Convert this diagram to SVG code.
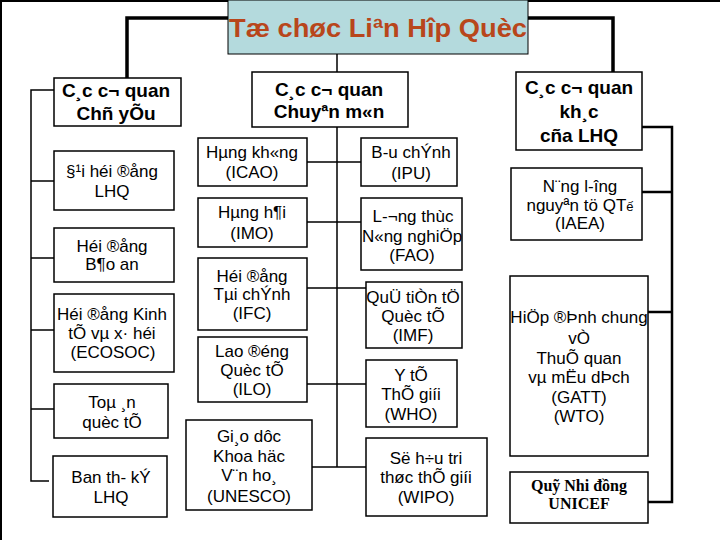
<svg xmlns="http://www.w3.org/2000/svg" width="720" height="540" viewBox="0 0 720 540">
<style>
.box{fill:#fff;stroke:#000;stroke-width:1.5}
.t{font-family:"Liberation Sans",Arial,sans-serif;font-size:17px;fill:#000;text-anchor:middle}
.h{font-family:"Liberation Sans",Arial,sans-serif;font-size:19px;font-weight:bold;fill:#000;text-anchor:middle}
.s{font-family:"Liberation Serif","Times New Roman",serif;font-size:16px;font-weight:bold;fill:#000;text-anchor:middle}
.ln{fill:none;stroke:#000;stroke-width:1.5}
.thick{fill:none;stroke:#000;stroke-width:3.5}
.mid{fill:none;stroke:#000;stroke-width:2.5}
</style>
<rect width="720" height="540" fill="#fff"/>
<path d="M0.5,1 H720 M1,0 V540" stroke="#000" stroke-width="2" fill="none"/>
<g id="connectors">
<path class="thick" d="M127,78 V18 H228 M528,18 H613 V72"/>
<path class="ln" d="M337,54 V72 M337,127 V467"/>
<path class="ln" d="M54,90 H31 V481 H49 M31,181 H54 M31,258 H54 M31,330 H54 M31,409 H54"/>
<path class="ln" d="M307,162 H361 M307,222 H361 M307,288 H366 M307,384 H366 M312,467 H366"/>
<path class="mid" d="M642,127 H672 V502 H648 M642,192 H672 M648,312 H672"/>
</g>
<g id="title">
<rect x="228" y="0" width="300" height="54" fill="#B4DADD" stroke="#000" stroke-width="1"/>
<text x="378" y="37" font-family="'Liberation Sans',Arial,sans-serif" font-size="26" font-weight="bold" fill="#B8461B" text-anchor="middle" textLength="298" lengthAdjust="spacingAndGlyphs">Tæ chøc Liªn Hîp Quèc</text>
</g>
<g id="chuyeu">
<rect class="box" x="54" y="78" width="127" height="48"/>
<text class="h" x="116" y="97">C¸c c¬ quan</text>
<text class="h" x="116" y="120">Chñ yÕu</text>
</g>
<g id="chuyenmon">
<rect class="box" x="252" y="72" width="156" height="55"/>
<text class="h" x="329" y="96">C¸c c¬ quan</text>
<text class="h" x="329" y="118">Chuyªn m«n</text>
</g>
<g id="khac">
<rect class="box" x="516" y="72" width="126" height="78"/>
<text class="h" x="579" y="94">C¸c c¬ quan</text>
<text class="h" x="579" y="118">kh¸c</text>
<text class="h" x="579" y="142">cña LHQ</text>
</g>
<g id="daihoidong">
<rect class="box" x="54" y="151" width="120" height="59"/>
<text class="t" x="112" y="177">§¹i héi ®ång</text>
<text class="t" x="112" y="197">LHQ</text>
</g>
<g id="baoan">
<rect class="box" x="54" y="228" width="120" height="54"/>
<text class="t" x="112" y="252">Héi ®ång</text>
<text class="t" x="112" y="270">B¶o an</text>
</g>
<g id="ecosoc">
<rect class="box" x="54" y="294" width="120" height="78"/>
<text class="t" x="112" y="320">Héi ®ång Kinh</text>
<text class="t" x="112" y="339">tÕ vµ x· héi</text>
<text class="t" x="113" y="358">(ECOSOC)</text>
</g>
<g id="toaan">
<rect class="box" x="54" y="384" width="114" height="54"/>
<text class="t" x="112" y="408">Toµ ¸n</text>
<text class="t" x="112" y="428">quèc tÕ</text>
</g>
<g id="banthuky">
<rect class="box" x="53" y="456" width="114" height="61"/>
<text class="t" x="111" y="483">Ban th- kÝ</text>
<text class="t" x="111" y="503">LHQ</text>
</g>
<g id="icao">
<rect class="box" x="198" y="138" width="109" height="48"/>
<text class="t" x="252" y="158">Hµng kh«ng</text>
<text class="t" x="252" y="178">(ICAO)</text>
</g>
<g id="imo">
<rect class="box" x="198" y="198" width="109" height="49"/>
<text class="t" x="252" y="218">Hµng h¶i</text>
<text class="t" x="252" y="239">(IMO)</text>
</g>
<g id="ifc">
<rect class="box" x="198" y="258" width="109" height="72"/>
<text class="t" x="252" y="282">Héi ®ång</text>
<text class="t" x="252" y="300">Tµi chÝnh</text>
<text class="t" x="252" y="319">(IFC)</text>
</g>
<g id="ilo">
<rect class="box" x="198" y="337" width="109" height="65"/>
<text class="t" x="252" y="357">Lao ®éng</text>
<text class="t" x="252" y="376">Quèc tÕ</text>
<text class="t" x="252" y="395">(ILO)</text>
</g>
<g id="unesco">
<rect class="box" x="186" y="420" width="126" height="90"/>
<text class="t" x="249" y="442">Gi¸o dôc</text>
<text class="t" x="249" y="462">Khoa häc</text>
<text class="t" x="249" y="481">V¨n ho¸</text>
<text class="t" x="249" y="502">(UNESCO)</text>
</g>
<g id="ipu">
<rect class="box" x="361" y="138" width="96" height="48"/>
<text class="t" x="411" y="158">B-u chÝnh</text>
<text class="t" x="411" y="179">(IPU)</text>
</g>
<g id="fao">
<rect class="box" x="361" y="198" width="101" height="72"/>
<text class="t" x="413" y="222">L-¬ng thùc</text>
<text class="t" x="412" y="242">N«ng nghiÖp</text>
<text class="t" x="412" y="261">(FAO)</text>
</g>
<g id="imf">
<rect class="box" x="366" y="282" width="96" height="66"/>
<text class="t" x="413" y="303">QuÜ tiÒn tÖ</text>
<text class="t" x="413" y="322">Quèc tÕ</text>
<text class="t" x="413" y="341">(IMF)</text>
</g>
<g id="who">
<rect class="box" x="366" y="360" width="91" height="67"/>
<text class="t" x="411" y="381">Y tÕ</text>
<text class="t" x="411" y="400">ThÕ giíi</text>
<text class="t" x="411" y="420">(WHO)</text>
</g>
<g id="wipo">
<rect class="box" x="366" y="438" width="121" height="78"/>
<text class="t" x="426" y="464">Së h÷u tri</text>
<text class="t" x="426" y="483">thøc thÕ giíi</text>
<text class="t" x="426" y="503">(WIPO)</text>
</g>
<g id="iaea">
<rect class="box" x="511" y="168" width="131" height="72"/>
<text class="t" x="580" y="192">N¨ng l-îng</text>
<text class="t" x="580" y="211">nguyªn tö QT<tspan font-size="13">ế</tspan></text>
<text class="t" x="580" y="229">(IAEA)</text>
</g>
<g id="gatt">
<rect class="box" x="510" y="276" width="138" height="180"/>
<text class="t" x="579" y="323">HiÖp ®Þnh chung</text>
<text class="t" x="579" y="344">vÒ</text>
<text class="t" x="579" y="364">ThuÕ quan</text>
<text class="t" x="579" y="383">vµ mËu dÞch</text>
<text class="t" x="579" y="403">(GATT)</text>
<text class="t" x="579" y="422">(WTO)</text>
</g>
<g id="unicef">
<rect class="box" x="510" y="472" width="138" height="51"/>
<text class="s" x="579" y="491">Quỹ Nhi đồng</text>
<text class="s" x="579" y="509">UNICEF</text>
</g>
</svg>
